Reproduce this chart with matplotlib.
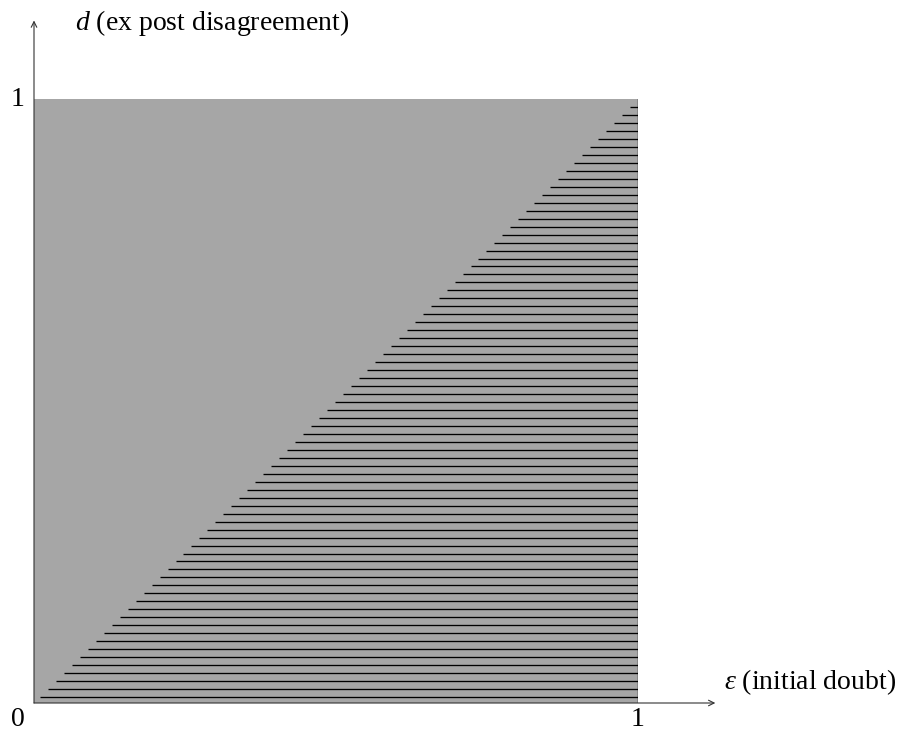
import numpy as np
from matplotlib import pyplot as plt

# boundary of the hatched region (d = eps)
boundary_eps = [0.0, 1.0]
boundary_d = [0.0, 1.0]
tick_labels = ['0', '1']
x_label = r'$\varepsilon$ (initial doubt)'
y_label = r'$d$ (ex post disagreement)'

# hatch spacing (style only)
hatch_first = 0.0099
hatch_gap = 0.0132
levels = np.arange(hatch_first, 0.99, hatch_gap)
starts = np.interp(levels, boundary_d, boundary_eps)

plt.rcParams['font.family'] = ['Liberation Serif', 'DejaVu Serif']
plt.rcParams['mathtext.fontset'] = 'custom'
plt.rcParams['mathtext.rm'] = 'Liberation Serif'
plt.rcParams['mathtext.it'] = 'Liberation Serif:italic'

W, H = 904, 732
fig = plt.figure(figsize=(W / 100, H / 100), dpi=100)
ax = fig.add_axes([34 / W, (H - 703) / H, 604 / W, 604 / H])
ax.set_xlim(0, 1)
ax.set_ylim(0, 1)
ax.axis('off')

# grey square and hatched region below the boundary
ax.fill_between([0, 1], 0, 1, color='#a6a6a6', lw=0, zorder=1)
ax.hlines(levels, starts, 1, colors='black', lw=0.95, zorder=2)
ax.plot([1, 1], [0, 1], color='black', lw=1.0, zorder=3)

# axes with arrows
arrow = dict(arrowstyle='->', color='#333333', lw=0.8, shrinkA=0, shrinkB=0,
             mutation_scale=10)
ax.annotate('', xy=(1.128, 0), xytext=(0, 0), arrowprops=arrow,
            annotation_clip=False, zorder=4)
ax.annotate('', xy=(0, 1.13), xytext=(0, 0), arrowprops=arrow,
            annotation_clip=False, zorder=4)

fs = 20
ax.text(-0.027, -0.027, tick_labels[0], ha='center', va='center', fontsize=fs)
ax.text(1.0, -0.027, tick_labels[1], ha='center', va='center', fontsize=fs)
ax.text(-0.027, 1.0, tick_labels[1], ha='center', va='center', fontsize=fs)

ax.text(0.068, 1.126, y_label, ha='left', va='center', fontsize=fs)
ax.text(1.143, 0.034, x_label, ha='left', va='center', fontsize=fs)

fig.savefig('out.png', dpi=100)
